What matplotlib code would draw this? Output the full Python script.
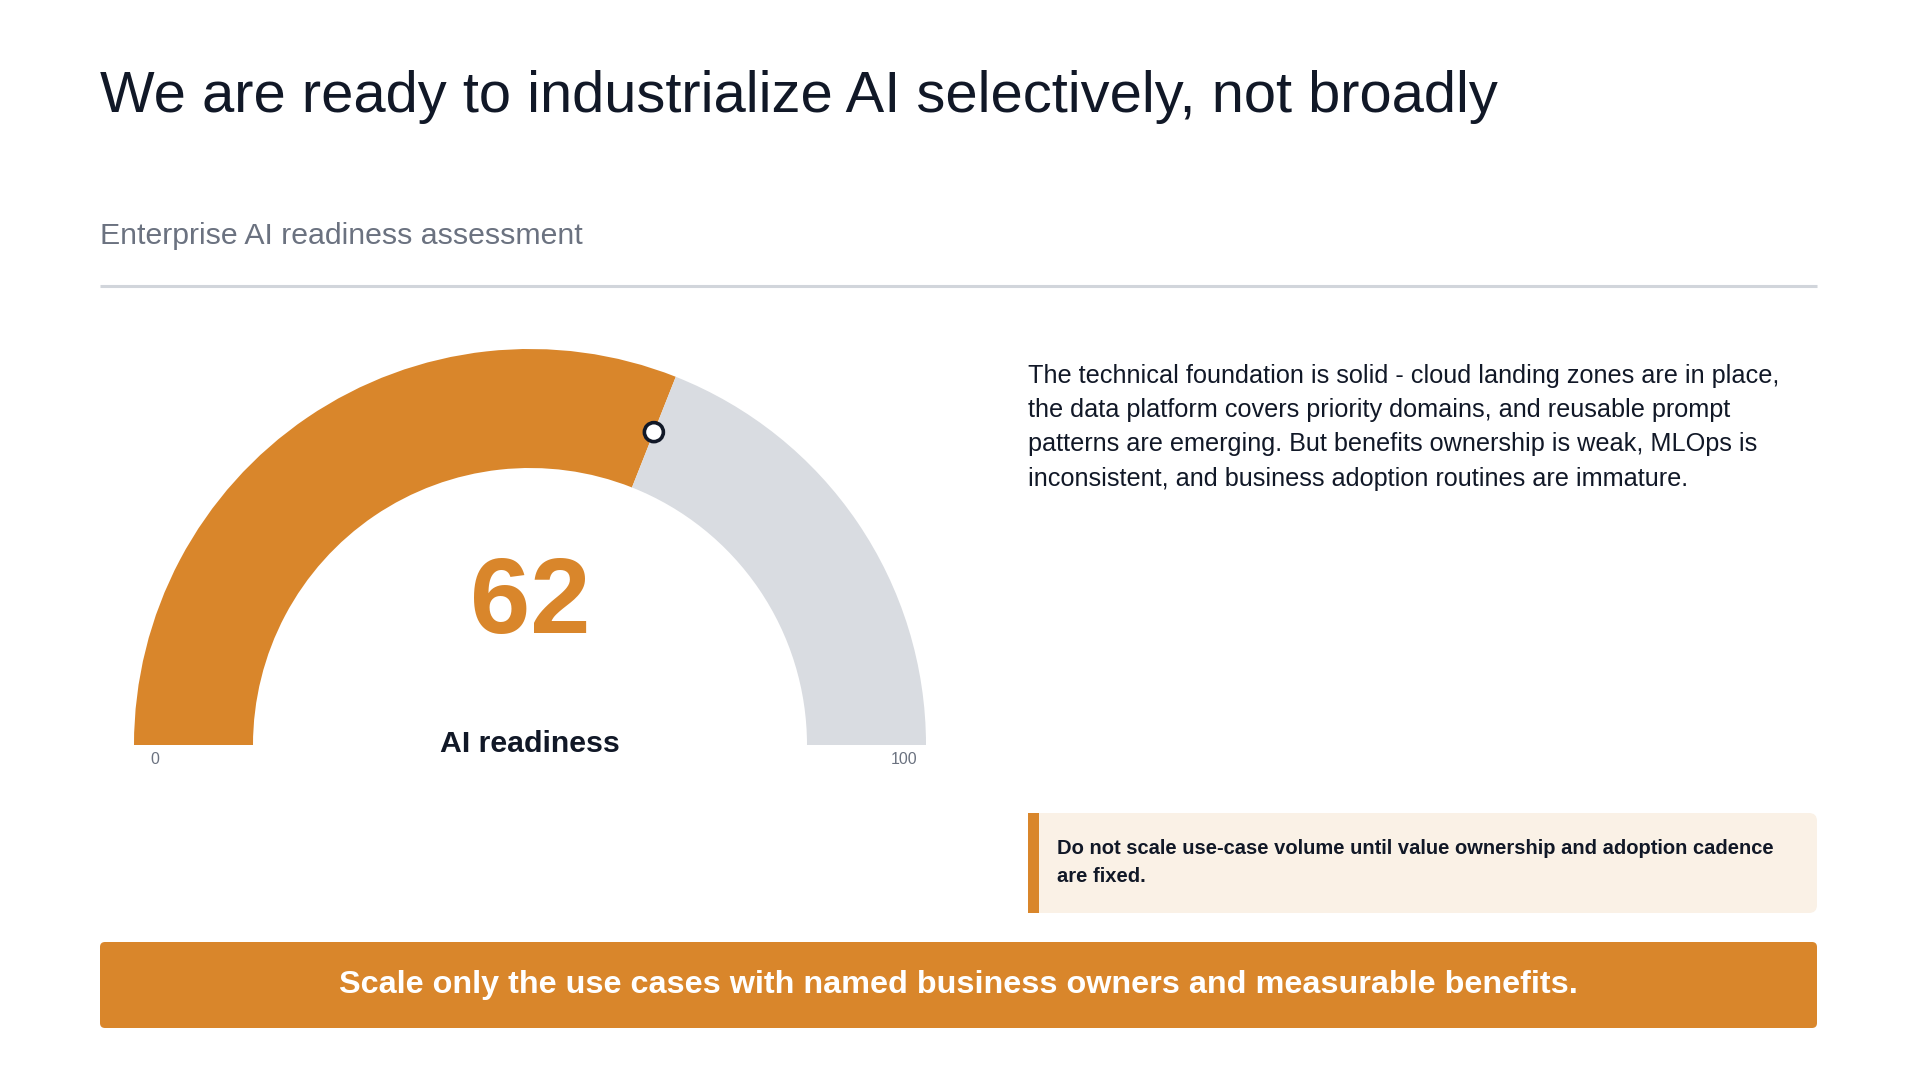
import matplotlib
matplotlib.use("Agg")
import numpy as np
import matplotlib.pyplot as plt
from matplotlib.patches import Wedge, Circle, FancyBboxPatch, Rectangle

plt.rcParams['font.family'] = ['Liberation Sans', 'DejaVu Sans']

# ---- data ----
title = "We are ready to industrialize AI selectively, not broadly"
subtitle = "Enterprise AI readiness assessment"
score = 62
scale_min, scale_max = 0, 100
gauge_label = "AI readiness"
summary_lines = [
    "The technical foundation is solid - cloud landing zones are in place,",
    "the data platform covers priority domains, and reusable prompt",
    "patterns are emerging. But benefits ownership is weak, MLOps is",
    "inconsistent, and business adoption routines are immature.",
]
callout_lines = [
    "Do not scale use-case volume until value ownership and adoption cadence",
    "are fixed.",
]
banner = "Scale only the use cases with named business owners and measurable benefits."

ORANGE = '#d9862b'
TRACK = '#d9dce1'
DARK = '#111827'
GRAY = '#6b7280'

W, H = 1919, 1080
fig = plt.figure(figsize=(W / 100, H / 100), dpi=100)
ax = fig.add_axes([0, 0, 1, 1])
ax.set_xlim(0, W)
ax.set_ylim(H, 0)
ax.axis('off')

# header
ax.text(100, 97, title, fontsize=41.7, color=DARK, va='center', ha='left')
ax.text(100, 236, subtitle, fontsize=21.8, color=GRAY, va='center', ha='left')
ax.plot([100, 1817], [286, 286], color='#d1d5db', lw=2.2, solid_capstyle='butt')

# gauge (y axis is flipped, so angles run clockwise on screen)
cx, cy = 530, 745
r_out, r_in = 396, 277
frac = (score - scale_min) / (scale_max - scale_min)
split = 180 + 180 * frac
ax.add_patch(Wedge((cx, cy), r_out, 180, split, width=r_out - r_in,
                   facecolor=ORANGE, edgecolor='none'))
ax.add_patch(Wedge((cx, cy), r_out, split, 360, width=r_out - r_in,
                   facecolor=TRACK, edgecolor='none'))
r_mid = (r_out + r_in) / 2
ang = np.deg2rad(split)
ax.add_patch(Circle((cx + r_mid * np.cos(ang), cy + r_mid * np.sin(ang)), 9.5,
                    facecolor='white', edgecolor=DARK, lw=2.6, zorder=5))

ax.text(cx, 605, str(score), fontsize=78, fontweight='bold', color=ORANGE,
        ha='center', va='center')
ax.text(cx, 744, gauge_label, fontsize=21.8, fontweight='bold', color=DARK,
        ha='center', va='center')
ax.text(cx - r_out + 21, 760, str(scale_min), fontsize=11.5, color=GRAY,
        ha='center', va='center')
ax.text(cx + r_out - 22, 760, str(scale_max), fontsize=11.5, color=GRAY,
        ha='center', va='center')

# summary text
for i, line in enumerate(summary_lines):
    ax.text(1028, 376 + i * 34.2, line, fontsize=18.2, color=DARK,
            ha='left', va='center')

# callout
ax.add_patch(FancyBboxPatch((1028, 813), 789, 100,
                            boxstyle='round,pad=0,rounding_size=8',
                            facecolor='#faf1e6', edgecolor='none'))
ax.add_patch(Rectangle((1028, 813), 11, 100, facecolor=ORANGE, edgecolor='none'))
for i, line in enumerate(callout_lines):
    ax.text(1057, 848 + i * 28, line, fontsize=14.5, fontweight='bold',
            color=DARK, ha='left', va='center')

# banner
ax.add_patch(FancyBboxPatch((100, 942), 1717, 86,
                            boxstyle='round,pad=0,rounding_size=5',
                            facecolor=ORANGE, edgecolor='none'))
ax.text(958, 985, banner, fontsize=23.3, fontweight='bold', color='white',
        ha='center', va='center')

fig.savefig('out.png', dpi=100, facecolor='white')
